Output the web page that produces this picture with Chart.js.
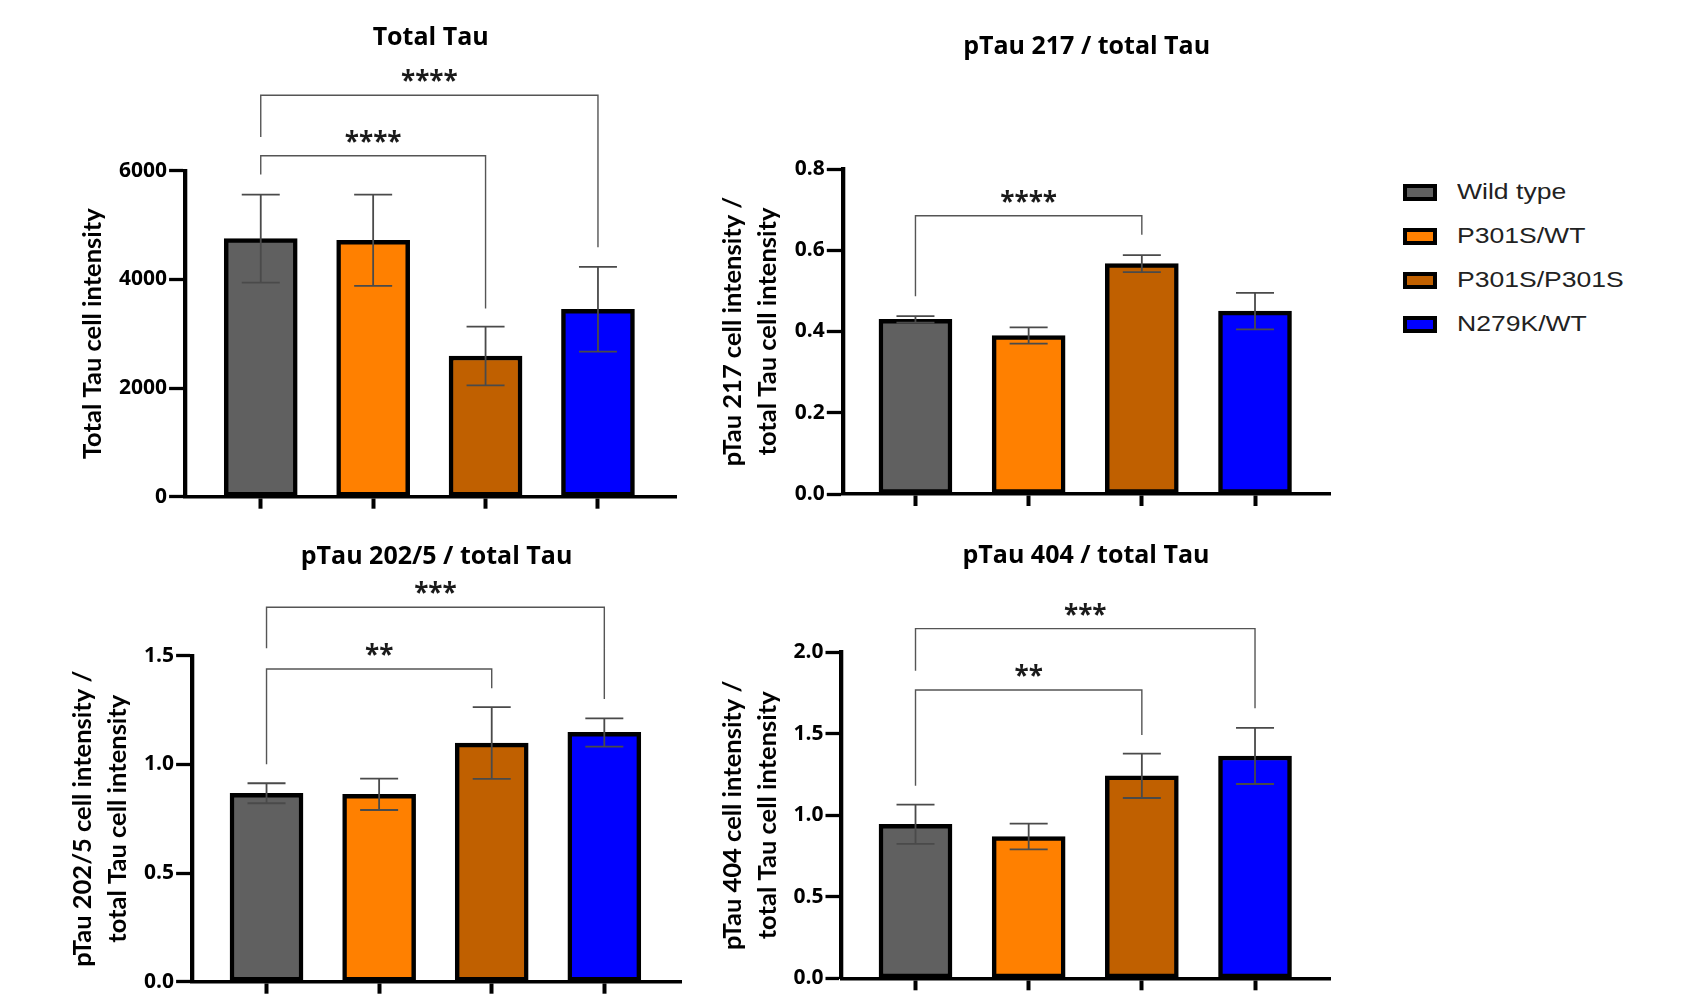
<!DOCTYPE html>
<html>
<head>
<meta charset="utf-8">
<script src="https://cdn.jsdelivr.net/npm/chart.js@4.4.1/dist/chart.umd.min.js"></script>
<style>
  html, body { margin: 0; padding: 0; background: #fff; }
  body { position: relative; width: 1689px; height: 1005px; overflow: hidden; }
  canvas { position: absolute; }
  #legend { position: absolute; left: 1403px; top: 170px; font-family: "Liberation Sans", Arial, sans-serif; font-size: 22.5px; color: #222; }
  .item { display: flex; align-items: center; height: 44px; }
  .swatch { width: 26px; height: 9px; border: 4px solid #000; margin-right: 20px; }
  .label { display: inline-block; transform: scaleX(1.18); transform-origin: left center; }
</style>
</head>
<body>
<canvas id="totalTau" width="700" height="520" style="left:0;top:0"></canvas>
<canvas id="pTau217" width="680" height="520" style="left:700px;top:0"></canvas>
<canvas id="pTau2025" width="700" height="485" style="left:0;top:520px"></canvas>
<canvas id="pTau404" width="680" height="485" style="left:700px;top:520px"></canvas>
<div id="legend"></div>

<script>
const groups = ['Wild type', 'P301S/WT', 'P301S/P301S', 'N279K/WT'];
const groupColors = ['#606060', '#FF8000', '#C06000', '#0000FF'];

const totalTauMean = [4750, 4720, 2590, 3450];
const totalTauSd = [810, 840, 540, 780];
const totalTauTicks = [0, 2000, 4000, 6000];

const pTau217Mean = [0.43, 0.39, 0.567, 0.45];
const pTau217Sd = [0.008, 0.02, 0.021, 0.045];
const pTau217Ticks = [0, 0.2, 0.4, 0.6, 0.8];

const pTau2025Mean = [0.867, 0.862, 1.098, 1.147];
const pTau2025Sd = [0.046, 0.072, 0.165, 0.065];
const pTau2025Ticks = [0, 0.5, 1.0, 1.5];

const pTau404Mean = [0.945, 0.87, 1.242, 1.364];
const pTau404Sd = [0.12, 0.079, 0.136, 0.172];
const pTau404Ticks = [0, 0.5, 1.0, 1.5, 2.0];

// significance brackets: groups compared, bracket level, leg ends, stars
const totalTauSig = [
  { a: 0, b: 3, level: 7390, aEnd: 6620, bEnd: 4590, stars: '****' },
  { a: 0, b: 2, level: 6275, aEnd: 5930, bEnd: 3465, stars: '****' }
];
const pTau217Sig = [
  { a: 0, b: 2, level: 0.685, aEnd: 0.487, bEnd: 0.638, stars: '****' }
];
const pTau2025Sig = [
  { a: 0, b: 3, level: 1.723, aEnd: 1.534, bEnd: 1.301, stars: '***' },
  { a: 0, b: 2, level: 1.439, aEnd: 1.0, bEnd: 1.35, stars: '**' }
];
const pTau404Sig = [
  { a: 0, b: 3, level: 2.145, aEnd: 1.887, bEnd: 1.656, stars: '***' },
  { a: 0, b: 2, level: 1.769, aEnd: 1.181, bEnd: 1.493, stars: '**' }
];

const xPositions = [0, 1, 2, 3];

Chart.defaults.font.family = '"Open Sans", sans-serif';
Chart.defaults.color = '#000';

const errorBars = {
  id: 'errorBars',
  afterDatasetsDraw(chart, args, opts) {
    const { ctx, scales: { x, y } } = chart;
    ctx.save();
    ctx.strokeStyle = '#4a4a4a';
    ctx.lineWidth = 1.8;
    opts.mean.forEach((m, i) => {
      const px = x.getPixelForValue(xPositions[i]);
      const hi = y.getPixelForValue(m + opts.sd[i]);
      const lo = y.getPixelForValue(m - opts.sd[i]);
      ctx.beginPath();
      ctx.moveTo(px, hi); ctx.lineTo(px, lo);
      ctx.moveTo(px - 19, hi); ctx.lineTo(px + 19, hi);
      ctx.moveTo(px - 19, lo); ctx.lineTo(px + 19, lo);
      ctx.stroke();
    });
    ctx.restore();
  }
};

const sigBrackets = {
  id: 'sigBrackets',
  afterDraw(chart, args, opts) {
    const { ctx, scales: { x, y } } = chart;
    ctx.save();
    ctx.strokeStyle = '#555';
    ctx.lineWidth = 1.4;
    ctx.fillStyle = '#1a1a1a';
    ctx.font = 'bold 26px "Open Sans", sans-serif';
    ctx.textAlign = 'center';
    ctx.textBaseline = 'alphabetic';
    opts.list.forEach(s => {
      const xa = x.getPixelForValue(xPositions[s.a]);
      const xb = x.getPixelForValue(xPositions[s.b]);
      const yl = y.getPixelForValue(s.level);
      ctx.beginPath();
      ctx.moveTo(xa, y.getPixelForValue(s.aEnd));
      ctx.lineTo(xa, yl);
      ctx.lineTo(xb, yl);
      ctx.lineTo(xb, y.getPixelForValue(s.bEnd));
      ctx.stroke();
      ctx.fillText(s.stars, (xa + xb) / 2, yl - 5);
    });
    ctx.restore();
  }
};

function makePanel(id, p) {
  return new Chart(document.getElementById(id), {
    type: 'bar',
    data: {
      datasets: [{
        data: p.mean.map((v, i) => ({ x: xPositions[i], y: v })),
        backgroundColor: groupColors,
        borderColor: '#000',
        borderWidth: 4.5,
        borderSkipped: false,
        barThickness: 73
      }]
    },
    options: {
      responsive: false,
      animation: false,
      events: [],
      layout: { padding: { top: 0, left: 0, right: p.padRight, bottom: 0 } },
      plugins: {
        legend: { display: false },
        tooltip: { enabled: false },
        title: {
          display: true,
          text: p.title,
          fullSize: false,
          color: '#000',
          font: { size: 25, weight: 'bold', lineHeight: 1.2 },
          padding: { top: p.titleTop, bottom: p.titleBottom }
        },
        errorBars: { mean: p.mean, sd: p.sd },
        sigBrackets: { list: p.sig }
      },
      scales: {
        x: {
          type: 'linear',
          min: p.xMin,
          max: p.xMax,
          offset: false,
          afterBuildTicks: s => { s.ticks = xPositions.map(v => ({ value: v })); },
          afterFit: s => { s.height = p.xHeight; },
          grid: { offset: false, drawOnChartArea: false, tickLength: 12, tickWidth: 4, tickColor: '#000' },
          border: { color: '#000', width: 3.5 },
          ticks: { display: false }
        },
        y: {
          min: p.ticks[0],
          max: p.ticks[p.ticks.length - 1],
          afterBuildTicks: s => { s.ticks = p.ticks.map(v => ({ value: v })); },
          afterFit: s => { s.width = p.yWidth; },
          grid: { drawOnChartArea: false, tickLength: 16, tickWidth: 3.3, tickColor: '#000' },
          border: { color: '#000', width: 4.3 },
          ticks: {
            padding: 2,
            color: '#000',
            font: { size: 21, weight: 'bold' },
            callback: v => v.toFixed(p.decimals)
          },
          title: {
            display: true,
            text: p.yTitle,
            color: '#000',
            font: { family: 'Lato, sans-serif', size: 25.5, weight: 'bold', lineHeight: 1.37 },
            padding: { top: p.yTitlePad, bottom: 0 }
          }
        }
      }
    },
    plugins: [errorBars, sigBrackets]
  });
}

makePanel('totalTau', {
  title: 'Total Tau', yTitle: 'Total Tau cell intensity',
  mean: totalTauMean, sd: totalTauSd, ticks: totalTauTicks, sig: totalTauSig, decimals: 0,
  xMin: -0.673, xMax: 3.696,
  yWidth: 185.1, yTitlePad: 75.3, padRight: 23.8, titleTop: 23.3, titleBottom: 117.4, xHeight: 23.3
});
makePanel('pTau217', {
  title: 'pTau 217 / total Tau', yTitle: ['pTau 217 cell intensity /', 'total Tau cell intensity'],
  mean: pTau217Mean, sd: pTau217Sd, ticks: pTau217Ticks, sig: pTau217Sig, decimals: 1,
  xMin: -0.642, xMax: 3.667,
  yWidth: 142.8, yTitlePad: 15.3, padRight: 49.5, titleTop: 31.7, titleBottom: 107.3, xHeight: 26
});
makePanel('pTau2025', {
  title: 'pTau 202/5 / total Tau', yTitle: ['pTau 202/5 cell intensity /', 'total Tau cell intensity'],
  mean: pTau2025Mean, sd: pTau2025Sd, ticks: pTau2025Ticks, sig: pTau2025Sig, decimals: 1,
  xMin: -0.661, xMax: 3.681,
  yWidth: 192.1, yTitlePad: 65.1, padRight: 19, titleTop: 22.3, titleBottom: 83.4, xHeight: 23.3
});
makePanel('pTau404', {
  title: 'pTau 404 / total Tau', yTitle: ['pTau 404 cell intensity /', 'total Tau cell intensity'],
  mean: pTau404Mean, sd: pTau404Sd, ticks: pTau404Ticks, sig: pTau404Sig, decimals: 1,
  xMin: -0.654, xMax: 3.667,
  yWidth: 141.5, yTitlePad: 15.3, padRight: 49.5, titleTop: 20.7, titleBottom: 81.6, xHeight: 26.7
});

const legend = document.getElementById('legend');
groups.forEach((g, i) => {
  const item = document.createElement('div');
  item.className = 'item';
  const sw = document.createElement('span');
  sw.className = 'swatch';
  sw.style.background = groupColors[i];
  const lab = document.createElement('span');
  lab.className = 'label';
  lab.textContent = g;
  item.appendChild(sw);
  item.appendChild(lab);
  legend.appendChild(item);
});
</script>
</body>
</html>
